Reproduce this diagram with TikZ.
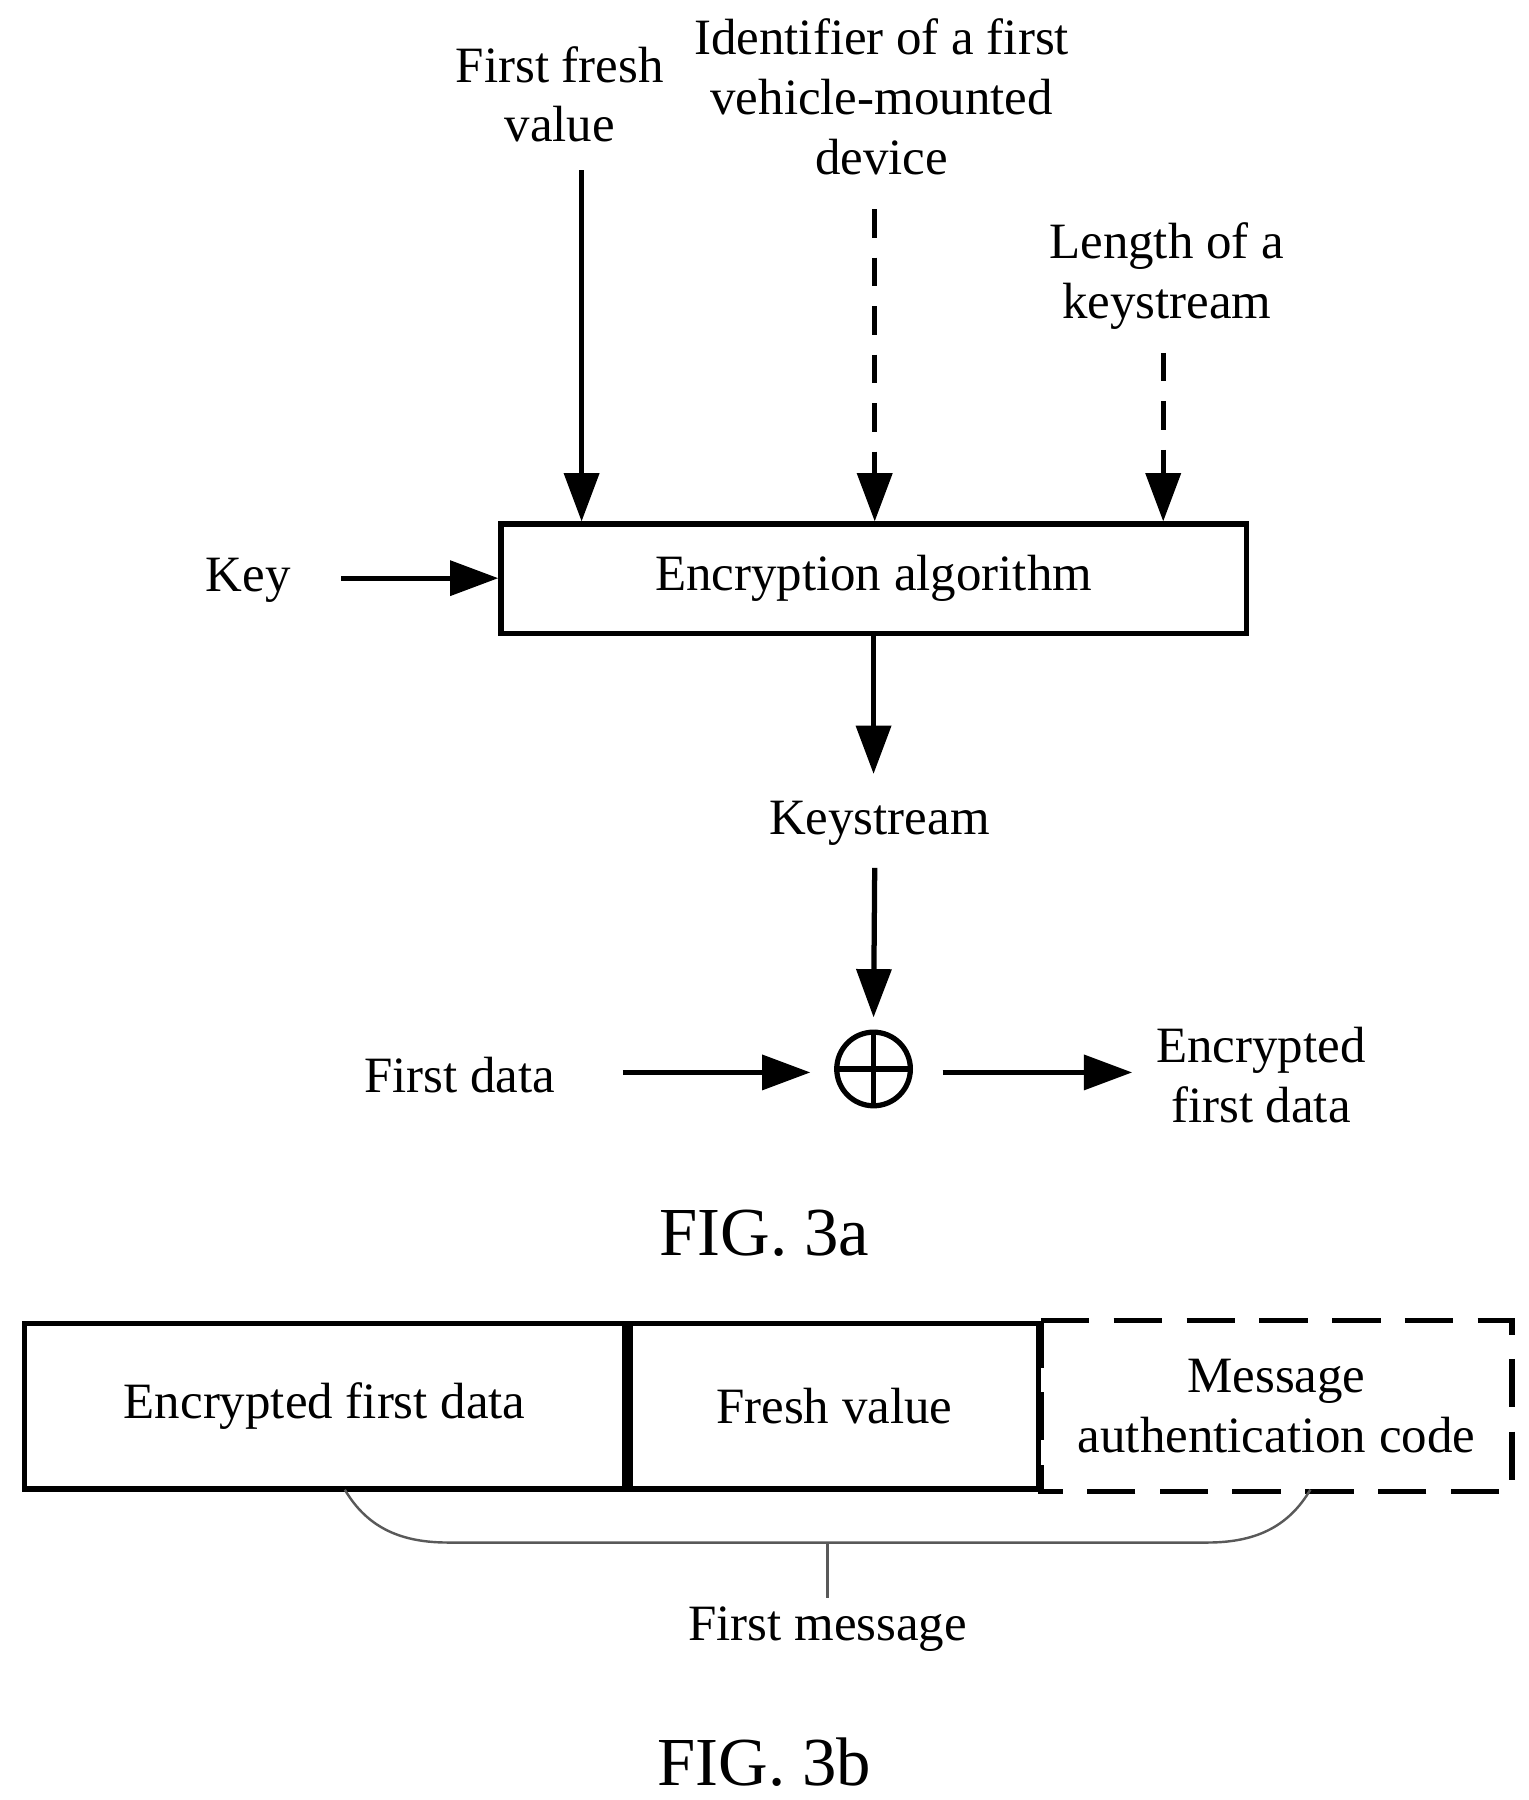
\documentclass[tikz,border=0pt]{standalone}
\usepackage{fontspec}
\setmainfont{Liberation Serif}
\usetikzlibrary{arrows.meta,positioning}
\begin{document}
\begin{tikzpicture}[x=0.01cm,y=-0.01cm,
    txt/.style={font=\fontsize{12.6}{14.8}\selectfont, align=center, inner sep=1pt},
    flow/.style={line width=1.3pt, -{Triangle[length=0.42cm,width=0.3cm]}},
    opt/.style={flow, dash pattern=on 7pt off 5pt},
    cell/.style={draw, line width=1.3pt, minimum height=1.44cm, anchor=north west, txt}
]
    \useasboundingbox (0,0) rectangle (1330,1566);

    % FIG. 3a inputs
    \node[txt] (fresh) at (487,82) {First fresh\\value};
    \node[txt] (ident) at (767,84) {Identifier of a first\\vehicle-mounted\\device};
    \node[txt] (len) at (1015,240) {Length of a\\keystream};
    \node[txt] (key) at (216,505) {Key};

    % Encryption block
    \node[draw, line width=1.3pt, minimum width=6.48cm, minimum height=0.95cm, txt] (alg) at (760,503.5) {Encryption algorithm};

    \coordinate (freshtop) at (506,148);
    \coordinate (identtop) at (761,182);
    \coordinate (lentop) at (1012,307);
    \coordinate (keyend) at (297,503);
    \draw[flow] (freshtop) -- (freshtop |- alg.north);
    \draw[opt] (identtop) -- (identtop |- alg.north);
    \draw[opt] (lentop) -- (lentop |- alg.north);
    \draw[flow] (keyend) -- (keyend -| alg.west);

    % Keystream and XOR
    \node[txt] (ks) at (765,716) {Keystream};
    \node[circle, draw, line width=1.3pt, minimum size=0.64cm, inner sep=0pt] (xor) at (760,930) {};
    \draw[line width=1.3pt] (xor.north) -- (xor.south) (xor.west) -- (xor.east);
    \coordinate (ksend) at (761,755);
    \coordinate (datastart) at (542,933);
    \coordinate (dataend) at (705,933);
    \coordinate (encstart) at (820,933);
    \coordinate (encend) at (985,933);
    \draw[flow] (alg.south) -- ++(0,120);
    \draw[flow] (ksend) -- ([yshift=3pt]xor.north);

    \node[txt] (data) at (400,935) {First data};
    \node[txt] (enc) at (1097,935) {Encrypted\\first data};
    \draw[flow] (datastart) -- (dataend);
    \draw[flow] (encstart) -- (encend);

    \node[txt, font=\fontsize{17}{20}\selectfont] (fig3a) at (665,1073) {FIG. 3a};

    % FIG. 3b message layout
    \node[cell, minimum width=5.22cm] (c1) at (19,1149) {Encrypted first data};
    \node[cell, minimum width=3.55cm] (c2) at (c1.north east) {Fresh value};
    \node[cell, draw=none, minimum width=4.05cm] (c3) at (c2.north east) {Message\\authentication code};
    \draw[line width=1.3pt, dash pattern=on 12pt off 6pt] (c3.north west) -- (c3.north east) -- (c3.south east) -- (c3.south west) -- (c3.north west);

    % Brace
    \coordinate (bl) at (300,1296);
    \coordinate (br) at (1140,1296);
    \coordinate (bm) at (720,1342);
    \node[txt] (msg) at (720,1417) {First message};
    \draw[gray!70!black, line width=0.6pt] (bl) .. controls (320,1330) and (350,1342) .. (390,1342)
        -- (1050,1342) .. controls (1090,1342) and (1120,1330) .. (br);
    \draw[gray!70!black, line width=0.6pt] (bm) -- (bm |- 0,1390);

    \node[txt, font=\fontsize{17}{20}\selectfont] (fig3b) at (665,1533) {FIG. 3b};
\end{tikzpicture}
\end{document}
